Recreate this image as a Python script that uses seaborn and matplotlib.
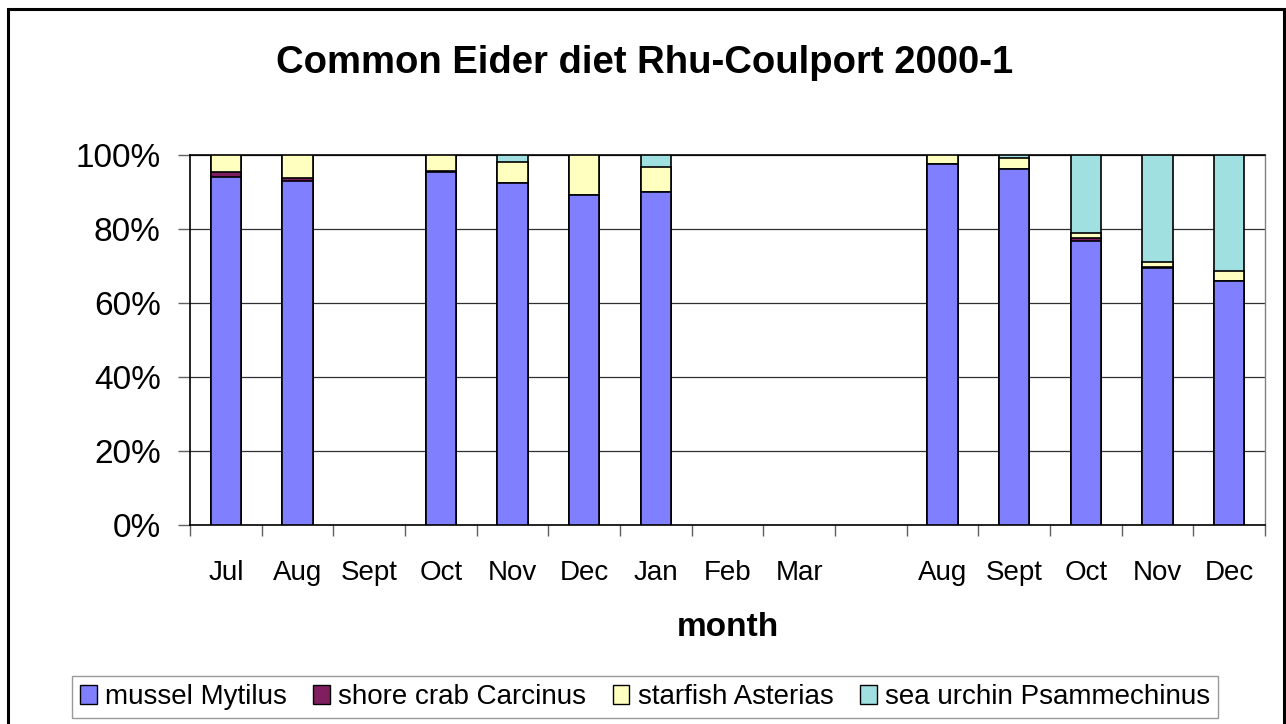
import numpy as np
import pandas as pd
import matplotlib
matplotlib.use("Agg")
import matplotlib.pyplot as plt
from matplotlib.patches import Patch, Rectangle
import seaborn as sns

# month labels (two seasons, blank gap between)
months = ['Jul', 'Aug', 'Sept', 'Oct', 'Nov', 'Dec', 'Jan', 'Feb', 'Mar', '',
          'Aug', 'Sept', 'Oct', 'Nov', 'Dec']
nan = np.nan
# percentage of diet
mussel   = [94.1, 92.9, nan, 95.3, 92.5, 89.2, 89.9, nan, nan, nan, 97.6, 96.2, 76.8, 69.5, 66.0]
crab     = [1.2,  1.0,  nan, 0.5,  0.0,  0.0,  0.0,  nan, nan, nan, 0.0,  0.0,  0.8,  0.3,  0.0]
starfish = [4.7,  6.1,  nan, 4.2,  5.6,  10.8, 6.9,  nan, nan, nan, 2.4,  3.0,  1.4,  1.2,  2.7]
urchin   = [0.0,  0.0,  nan, 0.0,  1.9,  0.0,  3.2,  nan, nan, nan, 0.0,  0.8,  21.0, 29.0, 31.3]

names = ['mussel Mytilus', 'shore crab Carcinus', 'starfish Asterias', 'sea urchin Psammechinus']
colors = ['#8080ff', '#7f1f5f', '#ffffc0', '#a0e0e0']

sns.set_style("white")
plt.rcParams['font.family'] = ['Liberation Sans', 'DejaVu Sans']
plt.rcParams['text.color'] = 'black'
plt.rcParams['axes.labelcolor'] = 'black'
plt.rcParams['xtick.labelcolor'] = 'black'
plt.rcParams['ytick.labelcolor'] = 'black'

df = pd.DataFrame({'pos': [str(i) for i in range(len(months))],
                   'mussel': mussel, 'crab': crab, 'starfish': starfish, 'urchin': urchin})
layers = ['mussel', 'crab', 'starfish', 'urchin']
cum = df[layers].cumsum(axis=1)

fig = plt.figure(figsize=(12.86, 7.24), dpi=100)
ax = fig.add_axes([190 / 1286, 1 - 525 / 724, (1265 - 190) / 1286, (525 - 155) / 724])

order = list(df['pos'])
# draw from the top layer down so each layer covers the ones below
for i in range(len(layers) - 1, -1, -1):
    sns.barplot(x=df['pos'], y=cum[layers[i]], order=order, color=colors[i],
                saturation=1, errorbar=None, width=0.42, edgecolor='black',
                linewidth=1.2, ax=ax, zorder=3)

ax.set_ylim(0, 100)
ax.set_xlim(-0.5, len(months) - 0.5)
ax.set_yticks(range(0, 101, 20))
ax.set_yticklabels([f'{v}%' for v in range(0, 101, 20)], fontsize=24)
ax.yaxis.grid(True, color='#303030', linewidth=0.9, zorder=0)
ax.set_axisbelow(True)
ax.tick_params(axis='y', direction='out', length=9, width=1, color='#606060',
               labelcolor='black', pad=12, left=True)

ax.set_xticks(range(len(months)))
ax.set_xticklabels(months, fontsize=20)
ax.set_xticks(np.arange(-0.5, len(months), 1), minor=True)
ax.tick_params(axis='x', which='major', length=0, pad=25, labelcolor='black')
ax.tick_params(axis='x', which='minor', direction='out', length=8, width=1, color='#606060', bottom=True)

ax.set_xlabel('month', fontsize=24, fontweight='bold', labelpad=19)
ax.set_ylabel('')

for s in ['left', 'bottom', 'top']:
    ax.spines[s].set_color('black')
    ax.spines[s].set_linewidth(1.2)
ax.spines['right'].set_color('#808080')
ax.spines['right'].set_linewidth(1)

fig.text(645 / 1286, 1 - 63 / 724, 'Common Eider diet Rhu-Coulport 2000-1',
         ha='center', va='center', fontsize=27.5, fontweight='bold')

handles = [Patch(facecolor=c, edgecolor='black', linewidth=1) for c in colors]
leg = fig.legend(handles, names, loc='center', bbox_to_anchor=(645 / 1286, 1 - 697 / 724),
                 ncol=4, fontsize=20, frameon=True, fancybox=False, handlelength=0.6,
                 handleheight=0.7, handletextpad=0.3, columnspacing=0.95, borderpad=0.3)
leg.get_frame().set_edgecolor('#808080')
leg.get_frame().set_linewidth(1)

fig.patches.append(Rectangle((8 / 1286, -0.01), (1284 - 8) / 1286, 1.01 - 9 / 724,
                             transform=fig.transFigure, fill=False, edgecolor='black',
                             linewidth=2.2))

fig.savefig('out.png', dpi=100)
